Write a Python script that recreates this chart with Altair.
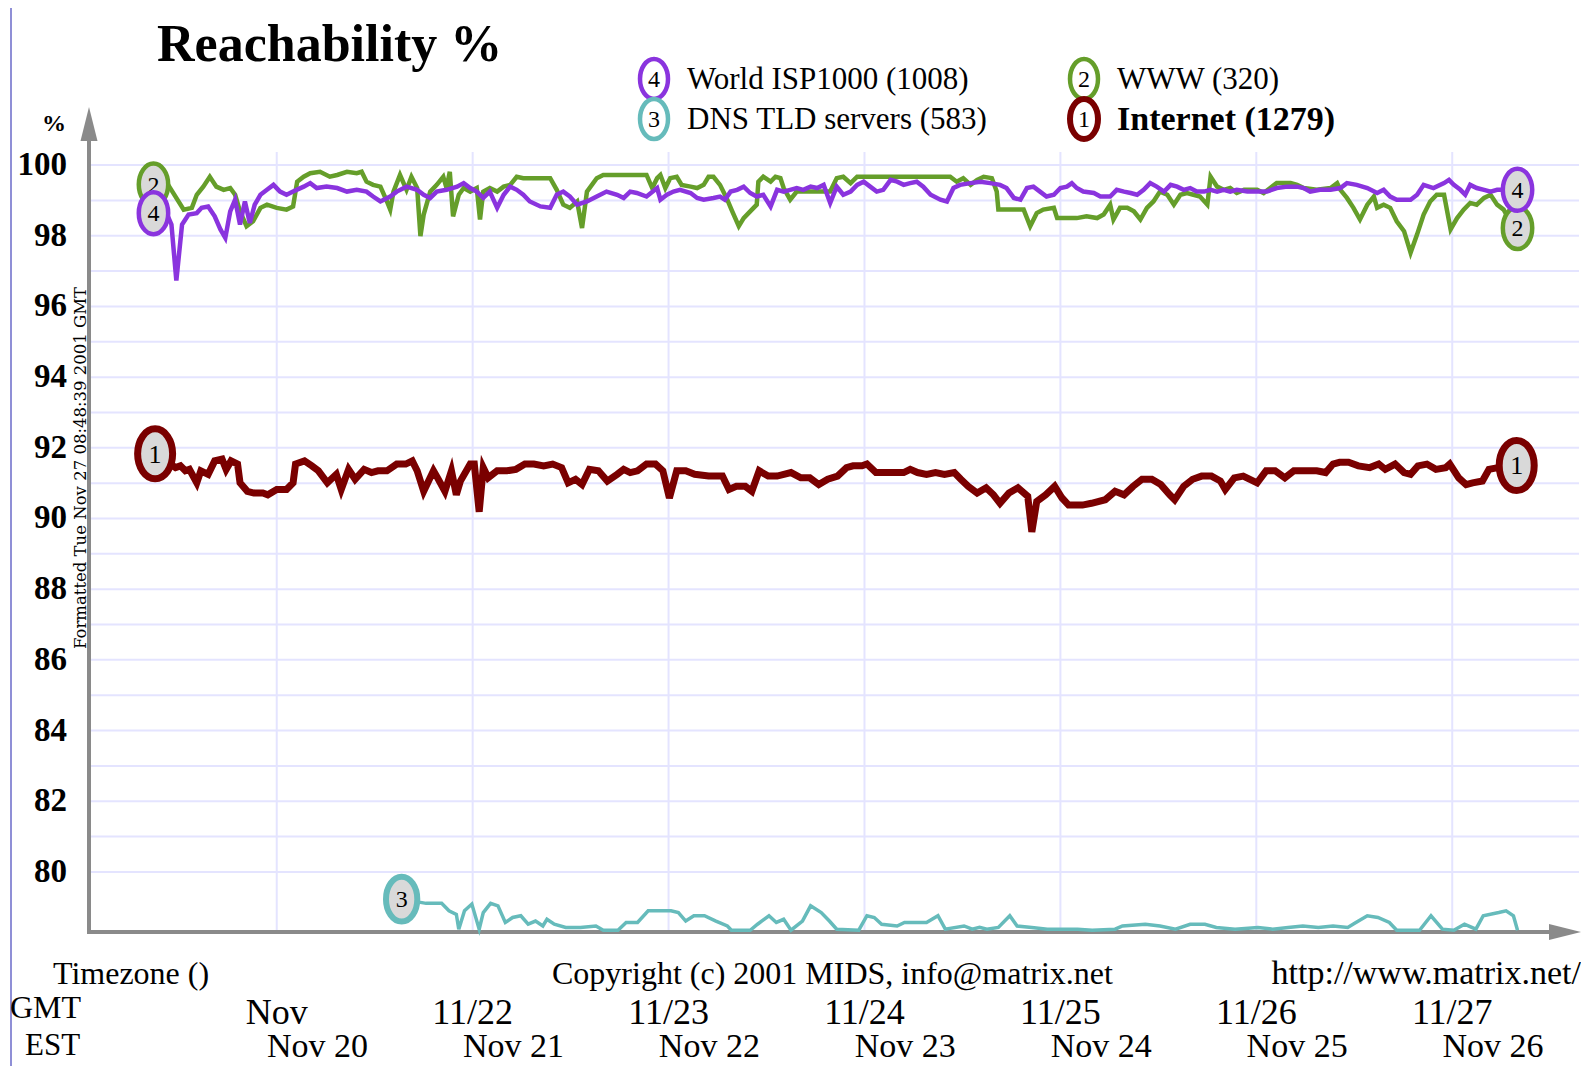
import altair as alt
import pandas as pd

# ---------------- data (hours from 2001-11-21 00:00 GMT, reachability %) ----------------
series4 = [  # World ISP1000 (1008)
    (-15.1, 98.64), (-13.5, 98.64), (-12.9, 98.32), (-12.3, 96.73), (-11.6, 98.32), (-10.8, 98.60),
    (-9.8, 98.64), (-9.2, 98.79), (-8.4, 98.83), (-7.6, 98.55), (-6.9, 98.18), (-6.3, 97.94),
    (-5.7, 98.69), (-5.1, 99.02), (-4.5, 98.32), (-3.9, 98.97), (-3.3, 98.36), (-2.7, 98.88),
    (-2.0, 99.16), (-1.2, 99.30), (-0.4, 99.44), (0.4, 99.25), (1.2, 99.16), (2.0, 99.25),
    (3.3, 99.39), (4.1, 99.49), (4.9, 99.35), (6.1, 99.39), (7.4, 99.35), (8.6, 99.25),
    (9.8, 99.30), (11.0, 99.25), (11.8, 99.11), (12.7, 98.97), (13.9, 99.11), (14.7, 99.25),
    (15.9, 99.39), (17.2, 99.30), (18.0, 99.16), (18.8, 99.07), (19.6, 99.25), (20.8, 99.30),
    (22.1, 99.39), (22.9, 99.49), (23.7, 99.35), (24.5, 99.25), (25.3, 99.07), (26.1, 99.25),
    (27.0, 98.79), (27.8, 99.16), (28.6, 99.39), (29.4, 99.30), (30.2, 99.16), (31.0, 98.97),
    (32.3, 98.83), (33.5, 98.79), (34.3, 99.16), (35.1, 99.25), (35.9, 99.11), (36.8, 98.88),
    (38.0, 98.97), (39.2, 99.11), (40.4, 99.25), (41.7, 99.16), (42.5, 99.07), (43.3, 99.25),
    (44.1, 99.21), (45.3, 99.11), (46.6, 99.35), (47.0, 99.02), (47.8, 99.16), (48.6, 99.25),
    (49.4, 99.30), (50.7, 99.21), (51.5, 99.07), (52.3, 99.02), (53.5, 99.07), (54.3, 99.11),
    (54.9, 99.02), (55.6, 99.25), (56.4, 99.30), (57.2, 99.39), (58.0, 99.21), (58.8, 99.11),
    (59.6, 99.16), (60.5, 98.83), (61.3, 99.30), (62.1, 99.25), (62.9, 99.30), (63.7, 99.35),
    (64.5, 99.30), (65.4, 99.39), (66.2, 99.35), (67.0, 99.44), (67.8, 98.93), (68.6, 99.39),
    (69.4, 99.16), (70.3, 99.25), (71.1, 99.44), (71.9, 99.53), (72.7, 99.39), (73.5, 99.25),
    (74.3, 99.30), (75.2, 99.58), (76.0, 99.53), (76.8, 99.44), (77.6, 99.49), (78.4, 99.53),
    (79.2, 99.39), (80.1, 99.16), (81.3, 99.02), (82.1, 98.97), (82.9, 99.35), (83.7, 99.44),
    (85.0, 99.49), (86.2, 99.53), (87.4, 99.49), (88.6, 99.44), (89.4, 99.35), (90.3, 99.07),
    (91.1, 99.02), (91.9, 99.35), (92.7, 99.39), (93.5, 99.25), (94.3, 99.11), (95.2, 99.16),
    (96.0, 99.35), (96.8, 99.39), (97.4, 99.49), (98.0, 99.35), (98.8, 99.25), (100.1, 99.21),
    (100.9, 99.11), (102.1, 99.11), (102.9, 99.30), (103.8, 99.25), (104.6, 99.21), (105.4, 99.16),
    (106.2, 99.30), (107.0, 99.49), (107.8, 99.39), (108.7, 99.25), (109.5, 99.44), (110.3, 99.39),
    (111.1, 99.30), (111.9, 99.35), (112.7, 99.25), (113.6, 99.25), (114.4, 99.30), (115.2, 99.25),
    (116.0, 99.30), (116.8, 99.25), (117.6, 99.30), (118.9, 99.25), (120.1, 99.25), (121.3, 99.25),
    (122.5, 99.35), (123.8, 99.39), (125.0, 99.39), (125.8, 99.35), (126.6, 99.25), (127.8, 99.30),
    (129.1, 99.30), (130.3, 99.35), (131.1, 99.49), (132.3, 99.44), (133.6, 99.35), (134.8, 99.21),
    (135.6, 99.30), (136.4, 99.11), (137.2, 99.02), (138.9, 99.02), (139.7, 99.16), (140.5, 99.44),
    (141.7, 99.35), (143.0, 99.49), (143.6, 99.58), (144.2, 99.44), (145.0, 99.30), (145.6, 99.16),
    (146.2, 99.44), (147.0, 99.35), (147.9, 99.30), (148.7, 99.25), (149.5, 99.30), (150.3, 99.30),
    (152.0, 99.30),
]
series2 = [  # WWW (320)
    (-15.1, 99.45), (-13.3, 99.44), (-11.4, 98.74), (-10.4, 98.79), (-9.8, 99.16), (-9.0, 99.39),
    (-8.2, 99.67), (-7.4, 99.39), (-6.5, 99.30), (-5.7, 99.35), (-5.1, 99.16), (-4.5, 98.69),
    (-3.7, 98.27), (-2.9, 98.41), (-2.0, 98.79), (-1.2, 98.88), (0.0, 98.79), (1.2, 98.74),
    (2.0, 98.83), (2.5, 99.53), (3.3, 99.67), (4.1, 99.77), (5.3, 99.81), (6.5, 99.67),
    (7.4, 99.72), (8.6, 99.81), (9.8, 99.77), (10.4, 99.81), (11.0, 99.53), (11.8, 99.44),
    (12.7, 99.39), (13.5, 98.97), (13.9, 98.74), (14.3, 99.25), (15.1, 99.72), (15.9, 99.30),
    (16.5, 99.67), (17.2, 99.35), (17.6, 97.99), (18.0, 98.60), (18.8, 99.25), (19.6, 99.44),
    (20.4, 99.67), (20.8, 99.35), (21.2, 99.81), (21.6, 98.55), (22.3, 99.16), (22.9, 99.35),
    (23.7, 99.25), (24.5, 99.35), (24.9, 98.46), (25.3, 99.25), (26.1, 99.35), (27.0, 99.25),
    (27.8, 99.39), (28.6, 99.44), (29.4, 99.67), (30.2, 99.63), (31.9, 99.63), (33.5, 99.63),
    (34.3, 99.30), (35.1, 98.88), (35.9, 98.79), (36.8, 98.97), (37.4, 98.22), (38.0, 99.25),
    (39.2, 99.63), (40.0, 99.72), (41.7, 99.72), (43.3, 99.72), (44.1, 99.72), (45.3, 99.72),
    (46.0, 99.35), (46.6, 99.63), (47.0, 99.72), (47.6, 99.35), (48.2, 99.63), (49.0, 99.67),
    (49.6, 99.44), (50.7, 99.39), (51.5, 99.35), (52.3, 99.44), (52.9, 99.67), (53.5, 99.67),
    (54.3, 99.44), (55.1, 99.07), (55.8, 98.69), (56.6, 98.27), (57.2, 98.50), (58.0, 98.69),
    (58.8, 98.88), (59.0, 99.53), (59.6, 99.67), (60.5, 99.53), (61.1, 99.67), (61.7, 99.63),
    (62.1, 99.35), (62.9, 99.02), (63.7, 99.25), (66.2, 99.25), (67.8, 99.25), (68.6, 99.63),
    (69.4, 99.67), (70.3, 99.49), (71.1, 99.67), (82.5, 99.67), (83.3, 99.53), (84.1, 99.63),
    (85.0, 99.44), (85.8, 99.58), (86.6, 99.67), (87.6, 99.63), (88.2, 99.25), (88.4, 98.74),
    (91.5, 98.74), (92.3, 98.27), (93.1, 98.64), (93.9, 98.74), (95.2, 98.79), (95.6, 98.50),
    (98.0, 98.50), (99.2, 98.55), (100.5, 98.50), (101.3, 98.60), (102.1, 98.88), (102.5, 98.46),
    (103.3, 98.79), (104.2, 98.79), (105.0, 98.69), (105.8, 98.46), (106.6, 98.79), (107.4, 98.97),
    (108.2, 99.25), (109.1, 99.16), (109.9, 98.88), (110.7, 99.16), (111.5, 99.21), (112.3, 99.16),
    (113.1, 99.11), (114.0, 98.88), (114.4, 99.67), (115.2, 99.39), (116.0, 99.30), (116.8, 99.35),
    (117.6, 99.21), (118.5, 99.30), (120.1, 99.30), (120.9, 99.21), (121.7, 99.35), (122.5, 99.49),
    (124.2, 99.49), (125.0, 99.44), (125.8, 99.35), (127.4, 99.30), (129.1, 99.35), (129.9, 99.49),
    (130.3, 99.30), (131.1, 99.07), (131.9, 98.79), (132.7, 98.46), (133.6, 98.88), (134.4, 99.11),
    (134.8, 98.79), (135.6, 98.88), (136.4, 98.79), (137.2, 98.41), (138.1, 98.13), (138.9, 97.52),
    (139.7, 98.04), (140.5, 98.60), (141.3, 98.97), (142.1, 99.16), (143.0, 99.16), (143.8, 98.18),
    (144.6, 98.50), (145.4, 98.74), (146.2, 98.93), (147.0, 98.88), (147.9, 99.07), (148.7, 99.16),
    (149.5, 98.88), (150.3, 98.74), (151.1, 98.41), (152.0, 98.22),
]
series1 = [  # Internet (1279)
    (-14.9, 91.83), (-12.4, 91.44), (-11.8, 91.49), (-11.2, 91.35), (-10.7, 91.39), (-9.8, 91.01),
    (-9.3, 91.35), (-8.4, 91.25), (-7.6, 91.63), (-6.7, 91.68), (-6.2, 91.39), (-5.6, 91.63),
    (-4.8, 91.54), (-4.5, 91.01), (-3.6, 90.77), (-2.8, 90.72), (-1.7, 90.72), (-1.1, 90.67),
    (0.0, 90.82), (1.2, 90.82), (2.0, 91.01), (2.3, 91.54), (3.4, 91.63), (4.3, 91.49),
    (5.1, 91.35), (6.2, 91.01), (7.3, 91.25), (7.9, 90.82), (8.8, 91.39), (9.6, 91.11),
    (10.7, 91.39), (11.6, 91.30), (12.4, 91.35), (13.5, 91.35), (14.7, 91.54), (15.8, 91.54),
    (16.6, 91.63), (17.2, 91.35), (18.0, 90.77), (19.2, 91.35), (19.7, 91.15), (20.6, 90.77),
    (21.4, 91.35), (22.0, 90.67), (22.5, 91.06), (23.7, 91.54), (24.2, 91.54), (24.8, 90.19),
    (25.3, 91.44), (25.9, 91.15), (27.0, 91.35), (28.2, 91.35), (29.3, 91.39), (30.4, 91.54),
    (31.5, 91.54), (32.7, 91.49), (33.8, 91.54), (34.9, 91.44), (35.7, 91.01), (36.6, 91.11),
    (37.4, 90.96), (38.3, 91.39), (39.4, 91.35), (40.5, 91.06), (41.7, 91.25), (42.5, 91.39),
    (43.3, 91.30), (44.2, 91.35), (45.3, 91.54), (46.4, 91.54), (47.3, 91.35), (48.1, 90.58),
    (49.0, 91.35), (50.1, 91.35), (51.2, 91.25), (52.9, 91.20), (54.6, 91.20), (55.4, 90.82),
    (56.3, 90.91), (57.4, 90.91), (58.2, 90.77), (59.1, 91.35), (60.2, 91.20), (61.3, 91.20),
    (63.0, 91.30), (64.2, 91.15), (65.3, 91.15), (66.4, 90.96), (67.5, 91.11), (68.7, 91.20),
    (69.8, 91.44), (70.6, 91.49), (71.7, 91.49), (72.3, 91.54), (73.4, 91.30), (75.7, 91.30),
    (76.8, 91.30), (77.6, 91.39), (78.5, 91.30), (79.6, 91.25), (80.7, 91.30), (81.8, 91.25),
    (83.0, 91.30), (83.8, 91.11), (84.7, 90.91), (85.8, 90.72), (86.9, 90.87), (87.8, 90.67),
    (88.6, 90.43), (89.7, 90.72), (90.8, 90.87), (92.0, 90.63), (92.5, 89.62), (93.1, 90.48),
    (94.2, 90.67), (95.3, 90.91), (96.2, 90.58), (97.0, 90.38), (98.7, 90.38), (99.8, 90.43),
    (101.5, 90.53), (102.7, 90.77), (103.8, 90.67), (104.9, 90.91), (106.0, 91.11), (107.2, 91.11),
    (108.3, 90.96), (109.4, 90.67), (110.0, 90.53), (111.1, 90.91), (112.2, 91.11), (113.3, 91.20),
    (114.5, 91.20), (115.6, 91.06), (116.2, 90.82), (117.3, 91.15), (118.4, 91.20), (120.1, 91.01),
    (121.2, 91.35), (122.3, 91.35), (123.5, 91.15), (124.6, 91.35), (126.3, 91.35), (127.4, 91.35),
    (128.5, 91.30), (129.4, 91.54), (130.2, 91.59), (131.3, 91.59), (132.5, 91.49), (133.9, 91.44),
    (135.0, 91.54), (135.8, 91.39), (137.0, 91.54), (138.1, 91.30), (138.9, 91.25), (139.8, 91.49),
    (140.9, 91.54), (142.0, 91.39), (143.2, 91.44), (143.7, 91.54), (144.8, 91.15), (145.7, 90.96),
    (146.5, 91.01), (147.7, 91.06), (148.5, 91.39), (149.6, 91.44), (151.9, 91.50),
]
series3 = [  # DNS TLD servers (583)
    (15.3, 79.23), (18.3, 79.11), (20.2, 79.11), (21.1, 78.90), (22.0, 78.80), (22.3, 78.38),
    (23.0, 78.90), (23.9, 79.09), (24.8, 78.38), (25.3, 78.85), (26.2, 79.11), (27.1, 79.04),
    (28.0, 78.57), (28.9, 78.71), (29.9, 78.76), (30.8, 78.52), (31.7, 78.61), (32.6, 78.47),
    (33.1, 78.66), (34.0, 78.52), (35.4, 78.43), (37.2, 78.43), (39.1, 78.47), (40.0, 78.35),
    (41.8, 78.35), (42.8, 78.57), (44.2, 78.57), (45.5, 78.90), (48.3, 78.90), (49.2, 78.85),
    (50.1, 78.61), (51.1, 78.76), (52.4, 78.76), (53.8, 78.61), (55.2, 78.47), (55.7, 78.35),
    (58.0, 78.35), (58.9, 78.52), (60.3, 78.76), (61.2, 78.57), (62.1, 78.66), (63.0, 78.35),
    (64.4, 78.61), (65.4, 79.04), (66.7, 78.85), (67.7, 78.61), (68.6, 78.38), (71.3, 78.35),
    (72.3, 78.76), (73.2, 78.71), (74.1, 78.52), (76.0, 78.47), (76.9, 78.57), (79.6, 78.57),
    (81.0, 78.76), (81.9, 78.38), (84.2, 78.47), (85.2, 78.38), (86.1, 78.43), (87.0, 78.38),
    (88.4, 78.43), (89.8, 78.76), (90.7, 78.47), (92.5, 78.43), (94.4, 78.38), (98.1, 78.38),
    (99.9, 78.35), (102.7, 78.38), (103.6, 78.47), (106.4, 78.52), (108.2, 78.47), (110.1, 78.38),
    (111.9, 78.52), (113.7, 78.52), (115.1, 78.43), (117.4, 78.38), (120.2, 78.43), (122.0, 78.38),
    (123.9, 78.43), (125.7, 78.47), (127.6, 78.43), (129.4, 78.47), (131.2, 78.43), (132.2, 78.57),
    (133.6, 78.76), (134.9, 78.71), (136.3, 78.57), (137.2, 78.35), (140.0, 78.35), (141.4, 78.76),
    (142.8, 78.38), (144.2, 78.35), (145.5, 78.52), (146.9, 78.38), (147.8, 78.76), (149.7, 78.85),
    (150.6, 78.90), (151.5, 78.76), (152.0, 78.35),
]

legend_nums = ["4", "2", "3", "1"]
legend_names = ["World ISP1000 (1008)", "WWW (320)", "DNS TLD servers (583)", "Internet (1279)"]
y_ticks = [80, 82, 84, 86, 88, 90, 92, 94, 96, 98, 100]
grid_pct = list(range(80, 101))
day_hours = [0, 24, 48, 72, 96, 120, 144]
gmt_labels = ["Nov", "11/22", "11/23", "11/24", "11/25", "11/26", "11/27"]
est_hours = [5, 29, 53, 77, 101, 125, 149]
est_labels = ["Nov 20", "Nov 21", "Nov 22", "Nov 23", "Nov 24", "Nov 25", "Nov 26"]

# ---------------- styling ----------------
SERIF = "Liberation Serif"
PURPLE, GREEN, TEAL, RED = "#8a34de", "#659e2a", "#66bbbb", "#7a0000"
GRID, AXC, MFILL = "#e4e4ff", "#8a8a8a", "#d9d9d9"
W, H = 1476, 780
PX_PER_H = 8.163
X0 = -23.0
X1 = X0 + W / PX_PER_H
Y0, Y1 = 78.3, 100.37
ELLIPSE = "M -0.7 0 A 0.7 1 0 1 1 0.7 0 A 0.7 1 0 1 1 -0.7 0 Z"

xsc = alt.Scale(domain=[X0, X1], nice=False, zero=False)
ysc = alt.Scale(domain=[Y0, Y1], nice=False, zero=False)


def X():
    return alt.X("h:Q", scale=xsc, axis=None)


def Y():
    return alt.Y("v:Q", scale=ysc, axis=None)


def one():
    return alt.Data(values=[{"a": 1}])


def df(pairs):
    return pd.DataFrame(pairs, columns=["h", "v"])


def txt(t, x, y, size, align="left", baseline="alphabetic", weight="normal", font=SERIF, angle=None):
    kw = dict(text=t, fontSize=size, align=align, baseline=baseline, fontWeight=weight,
              font=font, color="black")
    if angle is not None:
        kw["angle"] = angle
    return alt.Chart(one()).mark_text(**kw).encode(x=alt.value(x), y=alt.value(y))


layers = []

# grid
layers.append(alt.Chart(pd.DataFrame({"v": grid_pct})).mark_rule(color=GRID, strokeWidth=2)
              .encode(y=Y(), x=alt.value(0), x2=alt.value(W + 14)))
layers.append(alt.Chart(pd.DataFrame({"h": day_hours})).mark_rule(color=GRID, strokeWidth=2)
              .encode(x=X(), y=alt.value(0), y2=alt.value(H)))

# axes with arrows
layers.append(alt.Chart(one()).mark_rule(color=AXC, strokeWidth=4)
              .encode(x=alt.value(0), y=alt.value(-14), y2=alt.value(H + 2)))
layers.append(alt.Chart(one()).mark_rule(color=AXC, strokeWidth=4)
              .encode(x=alt.value(-2), x2=alt.value(W - 4), y=alt.value(H)))
layers.append(alt.Chart(one()).mark_point(shape="M 0 -1 L 0.5 1 L -0.5 1 Z", size=1156, filled=True,
                                          color=AXC, opacity=1)
              .encode(x=alt.value(0), y=alt.value(-28)))
layers.append(alt.Chart(one()).mark_point(shape="M 1 0 L -1 -0.5 L -1 0.5 Z", size=1024, filled=True,
                                          color=AXC, opacity=1)
              .encode(x=alt.value(W), y=alt.value(H)))

# left frame border
layers.append(alt.Chart(one()).mark_rule(color="#6a6ac8", strokeWidth=1.5)
              .encode(x=alt.value(-78), y=alt.value(-144), y2=alt.value(H + 140)))

# series lines
for pairs, col, sw in [(series2, GREEN, 4.5), (series4, PURPLE, 4.5), (series1, RED, 7), (series3, TEAL, 3.5)]:
    layers.append(alt.Chart(df(pairs)).mark_line(color=col, strokeWidth=sw, strokeJoin="miter")
                  .encode(x=X(), y=Y(), order="h:Q"))


# line-end markers
def marker(points, num, col, size, sw, fs):
    d = df(points)
    m = alt.Chart(d).mark_point(shape=ELLIPSE, size=size, filled=True, fill=MFILL, stroke=col,
                                strokeWidth=sw, opacity=1).encode(x=X(), y=Y())
    t = alt.Chart(d).mark_text(text=num, font=SERIF, fontSize=fs, color="black", baseline="middle",
                               dy=1).encode(x=X(), y=Y())
    return [m, t]


layers += marker([series2[0], series2[-1]], "2", GREEN, 1764, 4.5, 24)
layers += marker([series4[0], series4[-1]], "4", PURPLE, 1764, 4.5, 24)
layers += marker([series1[0], series1[-1]], "1", RED, 2500, 7, 26)
layers += marker([series3[0]], "3", TEAL, 2000, 6, 24)

# legend
leg_cols = [PURPLE, GREEN, TEAL, RED]
leg_pos = [(565, -73), (995, -73), (565, -33), (995, -33)]
for i, (num, name, col) in enumerate(zip(legend_nums, legend_names, leg_cols)):
    lx, ly = leg_pos[i]
    bold = num == "1"
    layers.append(alt.Chart(one()).mark_point(shape=ELLIPSE, size=1600, filled=True, fill="white",
                                              stroke=col, strokeWidth=6 if bold else 4.5, opacity=1)
                  .encode(x=alt.value(lx), y=alt.value(ly)))
    layers.append(txt(num, lx, ly + 1, 24, align="center", baseline="middle"))
    layers.append(txt(name, lx + 33, ly + 1, 34 if bold else 31, baseline="middle",
                      weight="bold" if bold else "normal"))

# y tick labels
layers.append(alt.Chart(pd.DataFrame({"v": y_ticks})).mark_text(font=SERIF, fontSize=33, fontWeight="bold",
                                                                align="right", baseline="middle", color="black")
              .encode(y=Y(), x=alt.value(-22), text="v:Q"))

# x labels (GMT row and EST row)
layers.append(alt.Chart(pd.DataFrame({"h": day_hours, "lab": gmt_labels}))
              .mark_text(font=SERIF, fontSize=36, align="center", baseline="alphabetic", color="black")
              .encode(x=X(), y=alt.value(872), text="lab:N"))
layers.append(alt.Chart(pd.DataFrame({"h": est_hours, "lab": est_labels}))
              .mark_text(font=SERIF, fontSize=34, align="center", baseline="alphabetic", color="black")
              .encode(x=X(), y=alt.value(905), text="lab:N"))

# free texts
layers.append(txt("Reachability %", 68, -91, 52, weight="bold"))
layers.append(txt("%", -35, -28, 24, align="center", baseline="middle", weight="bold"))
layers.append(txt("Formatted Tue Nov 27 08:48:39 2001 GMT", -8, 316, 16.5, align="center",
                  baseline="middle", font="DejaVu Serif", angle=270))
layers.append(txt("Timezone ()", -36, 832, 32))
layers.append(txt("Copyright (c) 2001 MIDS, info@matrix.net", 463, 832, 32))
layers.append(txt("http://www.matrix.net/", 1492, 832, 34, align="right"))
layers.append(txt("GMT", -79, 866, 32))
layers.append(txt("EST", -64, 903, 31))

chart = (alt.layer(*layers)
         .properties(width=W, height=H,
                     padding={"left": 81, "top": 144, "right": 16, "bottom": 134},
                     autosize=alt.AutoSizeParams(type="none"),
                     background="white")
         .configure_view(stroke=None))

chart.save("out.html", embed_options={"renderer": "svg", "actions": False})
